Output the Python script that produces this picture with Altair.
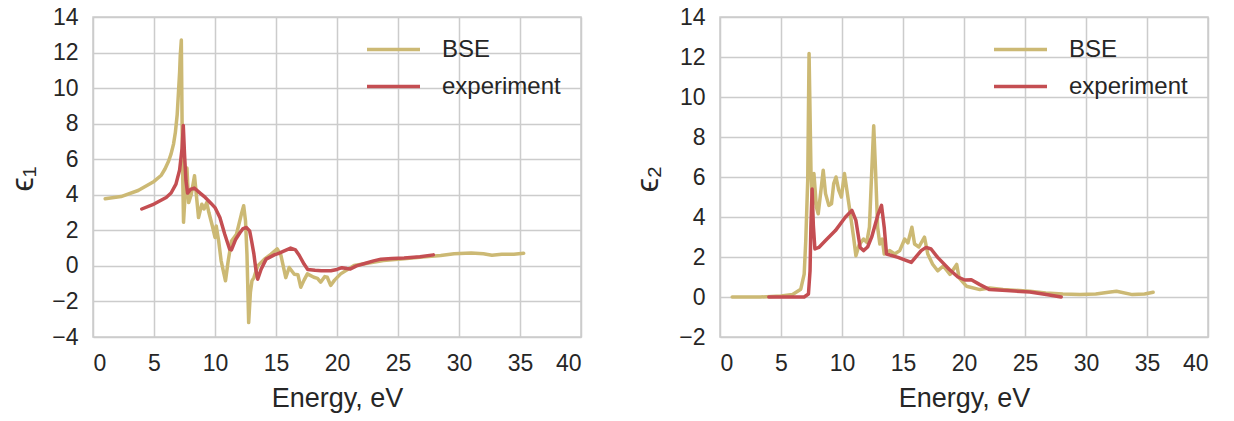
import altair as alt
import pandas as pd

SERIES = ["BSE", "experiment"]
COLORS = ["#CCB974", "#C44E52"]

# epsilon_1 : BSE
e1_bse_E = [1.0, 2.3, 3.7, 5.0, 5.6, 5.9, 6.2, 6.4, 6.6, 6.75, 6.9, 7.0, 7.1, 7.15, 7.24, 7.33, 7.42,
            7.55, 7.7, 7.84, 8.05, 8.32,
            8.65, 8.92, 9.1, 9.32, 9.5, 9.8, 10.0, 10.1, 10.3, 10.5, 10.68, 10.86, 11.08, 11.35, 11.76,
            12.16, 12.35, 12.5, 12.62, 12.76, 12.9, 13.03, 13.19, 13.5, 14.05, 14.6, 15.1, 15.4, 15.8,
            16.08, 16.5, 16.8, 17.03, 17.3, 17.57, 18.1, 18.4, 18.66, 19.0, 19.2, 19.48, 19.8, 20.3,
            21.4, 22.5, 23.8, 25.5, 27.0, 28.5, 29.6, 31.0, 32.0, 32.7, 33.5, 34.5, 35.3]
e1_bse_v = [3.78, 3.9, 4.24, 4.75, 5.1, 5.45, 5.9, 6.3, 6.85, 7.5, 8.5, 9.7, 10.9, 11.8, 12.7, 6.0, 2.45,
            4.0, 5.5, 3.56, 4.0, 5.07,
            2.72, 3.47, 3.2, 3.56, 3.0, 2.2, 1.6, 2.25, 1.4, 0.3, -0.28, -0.84, 0.28, 1.4, 1.78,
            2.9, 3.38, 2.53, 0.66, -3.19, -1.5, -0.84, -0.66, 0.0, 0.38, 0.66, 0.96, 0.6, -0.66,
            -0.09, -0.47, -0.5, -1.2, -0.8, -0.45, -0.64, -0.7, -0.92, -0.6, -0.64, -1.1, -0.8, -0.45,
            0.02, 0.15, 0.3, 0.4, 0.5, 0.58, 0.68, 0.72, 0.68, 0.6, 0.66, 0.65, 0.71]

# epsilon_1 : experiment
e1_exp_E = [4.0, 5.0, 6.0, 6.4, 6.8, 7.1, 7.3, 7.4, 7.5, 7.62, 7.75, 8.0, 8.3, 8.8, 9.2, 9.7, 10.0, 10.4,
            10.8, 11.2, 11.35, 11.7, 12.03, 12.3, 12.57, 12.84, 13.0, 13.19, 13.35, 13.5, 13.78, 14.19,
            14.86, 15.27, 15.68, 16.2, 16.6, 16.9, 17.3, 17.6, 18.2, 18.7, 19.5, 20.0, 20.4, 20.8, 21.1,
            21.6, 22.2, 23.0, 23.6, 24.5, 25.5, 26.8, 27.9]
e1_exp_v = [3.2, 3.48, 3.85, 4.1, 4.6, 5.4, 6.6, 7.9, 6.3, 4.8, 4.1, 4.3, 4.38, 4.08, 3.85, 3.5, 3.28, 2.72,
            1.78, 0.94, 0.9, 1.5, 1.85, 2.1, 2.16, 1.97, 1.4, 0.66, -0.2, -0.75, -0.19, 0.38,
            0.62, 0.72, 0.84, 1.0, 0.9, 0.6, 0.1, -0.2, -0.25, -0.28, -0.27, -0.2, -0.1, -0.15, -0.17,
            0.0, 0.12, 0.28, 0.38, 0.42, 0.45, 0.52, 0.62]

# epsilon_2 : BSE
e2_bse_E = [1.0, 3.3, 5.0, 5.95, 6.62, 6.9, 7.03, 7.19, 7.3, 7.46, 7.58, 7.7, 7.9, 8.05, 8.25, 8.46,
            8.65, 8.92, 9.14, 9.32, 9.51, 9.73, 9.95, 10.2, 10.4, 10.68, 10.95, 11.14, 11.4, 11.76,
            12.03, 12.25, 12.43, 12.6, 12.76, 12.92, 13.1, 13.3, 13.46, 13.92, 14.32, 14.73, 15.14,
            15.4, 15.73, 15.95, 16.3, 16.76, 17.03, 17.43, 17.84, 18.3, 18.85, 19.4, 19.6, 20.2, 21.3,
            22.1, 23.2, 25.4, 26.7, 28.1, 29.5, 30.8, 32.0, 32.5, 33.8, 34.8, 35.5]
e2_bse_v = [0.0, 0.0, 0.05, 0.13, 0.39, 1.14, 2.82, 5.84, 12.18, 6.17, 4.6, 6.17, 4.5, 4.16, 5.2, 6.34,
            5.17, 4.58, 4.66, 5.67, 6.0, 5.34, 5.0, 6.17, 5.34, 4.16, 2.99, 2.06, 2.6, 2.9,
            2.73, 3.5, 6.17, 8.56, 6.17, 3.49, 2.65, 2.9, 2.15, 2.32, 2.15, 2.32, 2.9,
            2.7, 3.49, 2.65, 2.5, 2.99, 2.15, 1.64, 1.31, 1.55, 1.13, 1.63, 0.96, 0.54, 0.37,
            0.45, 0.37, 0.29, 0.2, 0.15, 0.12, 0.15, 0.25, 0.29, 0.12, 0.15, 0.24]

# epsilon_2 : experiment
e2_exp_E = [4.0, 5.5, 6.9, 7.25, 7.38, 7.45, 7.55, 7.65, 7.78, 8.1, 8.65, 9.46, 10.27, 10.81, 11.14,
            11.49, 11.76, 12.1, 12.43, 12.97, 13.24, 13.46, 13.65, 14.59, 15.68, 16.49, 16.89, 17.3,
            17.84, 18.78, 19.5, 20.07, 20.6, 21.3, 22.1, 23.5, 25.4, 26.74, 27.97]
e2_exp_v = [0.0, 0.0, 0.0, 0.15, 1.3, 3.5, 5.4, 3.6, 2.4, 2.48, 2.82, 3.32, 3.99, 4.33, 3.83,
            2.48, 2.32, 2.5, 2.99, 4.16, 4.58, 3.49, 2.15, 1.98, 1.73, 2.32, 2.48, 2.4,
            1.98, 1.39, 1.0, 0.85, 0.86, 0.62, 0.37, 0.32, 0.25, 0.12, 0.0]

X_TICKS = [0, 5, 10, 15, 20, 25, 30, 35, 40]
Y_TITLES = ["ϵ₁", "ϵ₂"]


def frame(pairs):
    rows = []
    for name, es, vs in pairs:
        for i, (e, v) in enumerate(zip(es, vs)):
            rows.append({"E": e, "v": v, "series": name, "i": i})
    return pd.DataFrame(rows)


df1 = frame([("BSE", e1_bse_E, e1_bse_v), ("experiment", e1_exp_E, e1_exp_v)])
df2 = frame([("BSE", e2_bse_E, e2_bse_v), ("experiment", e2_exp_E, e2_exp_v)])


def panel(df, ytitle, ymin, ymax, tx):
    lines = alt.Chart(df).mark_line(strokeWidth=3.5, strokeJoin="round", strokeCap="round").encode(
        x=alt.X("E:Q", scale=alt.Scale(domain=[0, 40], nice=False),
                axis=alt.Axis(values=X_TICKS, title="Energy, eV")),
        y=alt.Y("v:Q", scale=alt.Scale(domain=[ymin, ymax], nice=False),
                axis=alt.Axis(values=list(range(ymin, ymax + 1, 2)), title=None)),
        color=alt.Color("series:N", scale=alt.Scale(domain=SERIES, range=COLORS),
                        legend=alt.Legend(title=None, orient="none", legendX=272, legendY=14, padding=0,
                                          labelFontSize=24, labelColor="#262626",
                                          symbolType="stroke", symbolStrokeWidth=3.5,
                                          symbolSize=2809, labelOffset=20, rowPadding=0,
                                          clipHeight=37)),
        detail="series:N",
        order="i:Q",
    )
    title = alt.Chart(pd.DataFrame({"t": [ytitle]})).mark_text(
        angle=270, fontSize=32, color="#262626", font="Liberation Sans",
        align="center", baseline="middle"
    ).encode(x=alt.value(tx), y=alt.value(162), text="t:N")
    return alt.layer(lines, title).properties(width=488, height=320)


chart = alt.hconcat(
    panel(df1, Y_TITLES[0], -4, 14, -70),
    panel(df2, Y_TITLES[1], -2, 14, -72),
    spacing=49,
).resolve_scale(color="independent").resolve_legend(color="independent").properties(
    padding={"left": 6, "top": 5, "right": 5, "bottom": 5}
).configure(font="Liberation Sans").configure_view(
    stroke="#cccccc", strokeWidth=1.5
).configure_axis(
    domain=False, ticks=False, grid=True, gridColor="#cccccc", gridWidth=1.5,
    labelFontSize=23, titleFontSize=27, labelColor="#262626", titleColor="#262626",
    titleFontWeight="normal", labelPadding=15,
).configure_axisX(titlePadding=10)

chart.save("out.html", embed_options={"renderer": "svg", "actions": False})
